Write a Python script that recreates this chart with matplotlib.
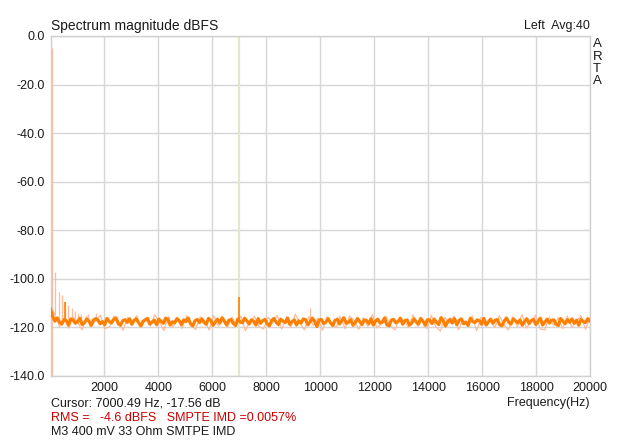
import matplotlib
matplotlib.use('Agg')
import matplotlib.pyplot as plt
import numpy as np

plt.rcParams['font.family'] = ['Liberation Sans', 'DejaVu Sans']

# 平均スペクトル (濃いオレンジ) - dB値, 0～20000 Hz の等間隔ビン
dark_db = [
    -112.5, -115.6, -117.4, -116.1, -117.9, -118.6, -116.8, -117.2, -119.0, -116.5, -116.9, -118.3,
    -117.7, -116.2, -118.8, -118.1, -116.6, -117.3, -119.2, -117.0, -116.4, -116.9, -118.5, -117.6,
    -118.9, -116.3, -117.5, -118.2, -116.7, -116.1, -118.4, -119.1, -117.2, -116.8, -117.9, -116.4,
    -118.7, -117.1, -116.5, -118.0, -119.3, -117.4, -116.9, -116.3, -118.6, -117.8, -117.0, -118.9,
    -116.6, -117.5, -118.3, -116.2, -116.8, -119.0, -117.7, -118.1, -116.4, -117.2, -118.8, -116.9,
    -117.6, -116.1, -118.5, -119.4, -117.3, -116.7, -118.0, -116.5, -117.9, -118.7, -116.3, -117.1,
    -119.1, -117.8, -116.6, -118.2, -116.0, -117.4, -118.9, -117.0, -116.8, -118.4, -119.2, -116.5,
    -117.7, -118.1, -116.2, -117.3, -118.6, -116.9, -117.5, -119.0, -116.4, -118.3, -117.2, -116.7,
    -118.5, -119.3, -117.1, -116.3, -117.9, -118.8, -116.6, -117.4, -118.0, -116.1, -118.7, -117.6,
    -116.9, -119.0, -117.3, -118.2, -116.5, -116.8, -118.9, -117.7, -116.2, -117.5, -119.6, -117.0,
    -116.7, -118.4, -117.8, -116.4, -118.1, -119.2, -117.2, -116.6, -118.6, -117.3, -116.0, -118.3,
    -117.9, -116.8, -119.1, -118.0, -116.3, -117.6, -118.8, -116.9, -117.1, -118.5, -116.4, -119.0,
    -117.4, -116.6, -118.2, -117.8, -116.1, -118.9, -119.3, -117.0, -116.7, -118.1, -117.5, -116.2,
    -118.7, -117.2, -116.9, -119.0, -118.3, -116.5, -117.7, -118.6, -116.3, -117.4, -119.1, -116.8,
    -117.0, -118.4, -116.6, -117.9, -118.8, -116.0, -117.3, -119.4, -117.6, -116.7, -118.2, -116.4,
    -118.9, -117.1, -116.5, -118.5, -117.8, -119.2, -116.2, -117.5, -118.0, -116.9, -117.2, -118.7,
    -116.3, -119.0, -117.7, -116.6, -118.3, -117.0, -116.8, -118.9, -119.3, -117.4, -116.1, -117.9,
    -118.6, -116.5, -117.3, -118.1, -116.9, -119.1, -117.6, -116.4, -118.4, -117.2, -116.7, -118.8,
    -117.5, -116.2, -119.0, -117.8, -116.6, -118.2, -117.1, -116.9, -118.7, -119.2, -116.3, -117.4,
    -118.5, -116.8, -117.9, -116.5, -118.3, -117.0, -119.1, -116.7, -117.6, -118.0, -116.4, -117.3,
]

# ピークホールド (薄いオレンジ)
light_db = [
    -111.0, -114.8, -119.6, -116.2, -120.3, -115.6, -118.1, -121.0, -115.4, -119.7, -117.0, -115.0,
    -120.5, -119.8, -115.3, -117.6, -121.2, -115.9, -118.9, -115.1, -120.2, -116.7, -119.4, -114.8,
    -117.6, -121.3, -115.5, -119.8, -116.0, -120.4, -115.2, -118.7, -120.9, -115.7, -117.1, -121.1,
    -115.1, -119.5, -116.9, -120.1, -115.7, -119.0, -115.3, -121.4, -117.4, -115.4, -119.7, -120.6,
    -115.8, -118.3, -115.0, -120.7, -116.2, -119.9, -114.6, -118.0, -121.0, -115.5, -119.3, -116.1,
    -121.2, -115.6, -118.8, -119.9, -115.9, -120.5, -115.3, -117.1, -120.8, -116.0, -119.6, -114.7,
    -120.2, -118.4, -115.4, -119.5, -121.0, -115.9, -117.2, -120.1, -114.8, -119.6, -116.6, -120.4,
    -115.0, -119.7, -121.5, -115.9, -118.5, -115.3, -120.9, -116.8, -119.4, -115.3, -121.4, -115.8,
    -119.0, -116.7, -120.1, -115.2, -118.8, -121.1, -115.6, -119.7, -114.8, -120.3, -117.4, -115.0,
    -120.6, -121.1, -115.7, -119.2, -116.0, -120.5, -115.3, -119.9, -117.5, -115.1, -120.8, -116.2,
]

# 高調波などのスパイク
light_spike_hz = [60, 180, 300, 420, 540, 660, 780, 900, 1020, 1140, 1380, 1700, 9620, 10700]
light_spike_db = [-4.9, -97.0, -105.3, -106.7, -109.4, -110.8, -112.0, -113.3, -114.0, -114.5,
                  -114.3, -114.2, -112.0, -115.0]
dark_spike_hz = [540, 7000]
dark_spike_db = [-109.4, -107.5]

cursor_hz = 7000
x_ticks = [0, 2000, 4000, 6000, 8000, 10000, 12000, 14000, 16000, 18000, 20000]
x_tick_labels = [''] + [str(v) for v in x_ticks[1:]]
y_ticks = [0, -20, -40, -60, -80, -100, -120, -140]

dark_hz = np.linspace(0, 20000, len(dark_db))
light_hz = np.linspace(0, 20000, len(light_db))

fig = plt.figure(figsize=(6.4, 4.41), dpi=100)
ax = fig.add_axes([50.5 / 640, 1 - 376 / 441, (590 - 50.5) / 640, 340 / 441])

ax.axvline(cursor_hz, color='#e6e6c8', lw=1.6, zorder=1)

light_c = '#ffbb9c'
dark_c = '#ff8000'
ax.plot(light_hz, light_db, color=light_c, lw=0.9, zorder=2)
ax.vlines(light_spike_hz, [-140 if d > -50 else -117.5 for d in light_spike_db], light_spike_db,
          color=light_c, lw=0.9, zorder=2)
ax.plot(dark_hz, dark_db, color=dark_c, lw=2.3, zorder=3)
ax.vlines(dark_spike_hz, -117.5, dark_spike_db, color=dark_c, lw=1.2, zorder=3)

ax.set_xlim(0, 20000)
ax.set_ylim(-140, 0)
ax.set_xticks(x_ticks)
ax.set_xticklabels(x_tick_labels)
ax.set_yticks(y_ticks)
ax.set_yticklabels([f'{v:.1f}' for v in y_ticks])
ax.tick_params(length=0, labelsize=9, colors='#1a1a1a', pad=4)
ax.grid(True, color='#d6d6d6', lw=1.0, zorder=0)
ax.set_axisbelow(True)
for s in ax.spines.values():
    s.set_color('#d0d0d0')
    s.set_linewidth(1.0)

fig.text(51 / 640, 1 - 26 / 441, 'Spectrum magnitude dBFS', fontsize=10, va='center', ha='left', color='#1a1a1a')
fig.text(590 / 640, 1 - 26 / 441, 'Left  Avg:40', fontsize=9, va='center', ha='right', color='#1a1a1a')
for i, ch in enumerate('ARTA'):
    fig.text(593 / 640, 1 - (44 + i * 12.5) / 441, ch, fontsize=9.5, va='center', ha='left', color='#1a1a1a')
fig.text(590 / 640, 1 - 403 / 441, 'Frequency(Hz)', fontsize=9, va='center', ha='right', color='#1a1a1a')
fig.text(51 / 640, 1 - 403 / 441, 'Cursor: 7000.49 Hz, -17.56 dB', fontsize=9, va='center', ha='left', color='#1a1a1a')
fig.text(51 / 640, 1 - 418 / 441, 'RMS =   -4.6 dBFS   SMPTE IMD =0.0057%', fontsize=9, va='center', ha='left', color='#cc0000')
fig.text(51 / 640, 1 - 432 / 441, 'M3 400 mV 33 Ohm SMTPE IMD', fontsize=9, va='center', ha='left', color='#1a1a1a')

fig.savefig('out.png', dpi=100)
